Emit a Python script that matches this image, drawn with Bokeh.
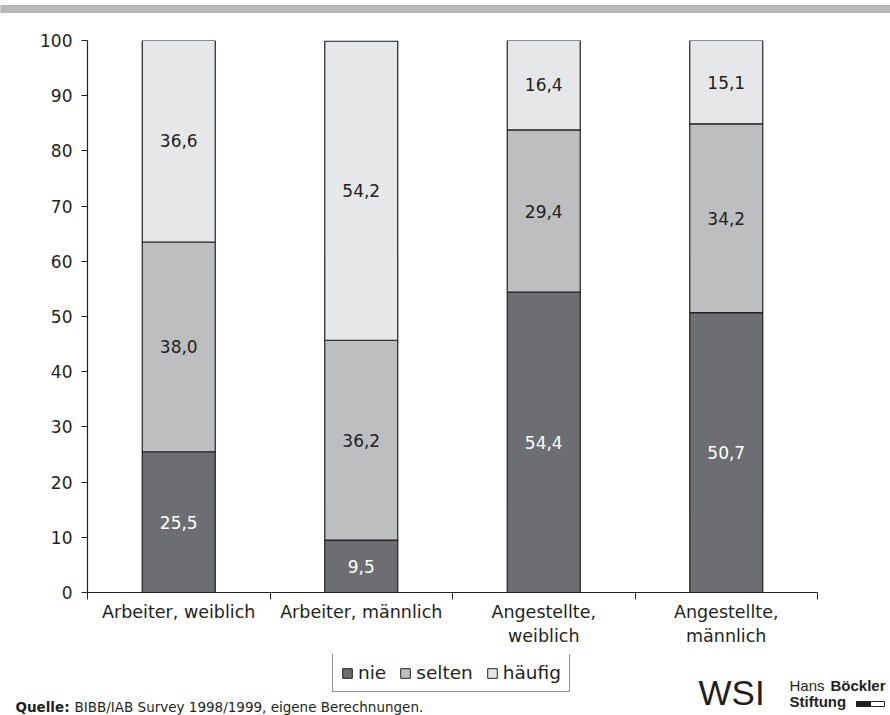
import numpy as np
from bokeh.plotting import figure
from bokeh.layouts import column
from bokeh.models import (FixedTicker, ColumnDataSource, Legend, LegendItem, Range1d)
from bokeh.core.properties import value
from bokeh.embed import file_html
from bokeh.resources import INLINE

categories = ["Arbeiter, weiblich", "Arbeiter, männlich", "Angestellte,\nweiblich", "Angestellte,\nmännlich"]
nie = [25.5, 9.5, 54.4, 50.7]
selten = [38.0, 36.2, 29.4, 34.2]
haeufig = [36.6, 54.2, 16.4, 15.1]
series_names = ["nie", "selten", "häufig"]
colors = ["#6d6e71", "#bcbec0", "#e6e7e8"]
yticks = list(range(0, 101, 10))
source_bold = "Quelle:"
source_text = "BIBB/IAB Survey 1998/1999, eigene Berechnungen."

FONT = "DejaVu Sans"
LOGO_FONT = "Liberation Sans"
TXT = "#231f20"
W = 890
TOP_H = 20
MAIN_H = 634
BOT_H = 715 - TOP_H - MAIN_H   # 61 -> strip covers canvas y 654..715


def blank(height, yr):
    f = figure(width=W, height=height, output_backend="svg", toolbar_location=None, title=None,
               x_range=Range1d(0, W), y_range=Range1d(0, yr), frame_align=False,
               min_border=0, x_axis_location=None, y_axis_location=None)
    f.outline_line_color = None
    f.xgrid.visible = False
    f.ygrid.visible = False
    f.border_fill_color = "white"
    f.background_fill_color = "white"
    return f

# ---------- top band ----------
top = blank(TOP_H, TOP_H)
top.quad(left=[0], right=[W], bottom=[8], top=[15], fill_color="#b9babc", line_color="#a9aaac",
         line_width=0.8)

# ---------- main chart ----------
p = figure(width=W, height=MAIN_H, output_backend="svg", toolbar_location=None, title=None,
           x_range=Range1d(0, len(categories)), y_range=Range1d(0, 100), frame_align=False,
           min_border_left=87, min_border_right=W - 817, min_border_top=20,
           min_border_bottom=MAIN_H - 20 - 552)
p.outline_line_color = None
p.xgrid.visible = False
p.ygrid.visible = False
p.background_fill_color = "white"
p.border_fill_color = "white"

xs = np.arange(len(categories)) + 0.5
n = np.array(nie); s = np.array(selten); h = np.array(haeufig)
b0 = np.zeros(len(xs)); t0 = n
b1 = t0; t1 = n + s
b2 = t1; t2 = np.minimum(n + s + h, 100)
bw = 0.4
for bot_, tp, c in [(b0, t0, colors[0]), (b1, t1, colors[1]), (b2, t2, colors[2])]:
    src = ColumnDataSource(dict(x=xs, bottom=bot_, top=tp))
    p.vbar(x="x", bottom="bottom", top="top", width=bw, source=src,
           fill_color=c, line_color=TXT, line_width=1.2)


def fmt(v):
    return f"{v:.1f}".replace(".", ",")


for vals, bot_, col in [(nie, b0, "white"), (selten, b1, TXT), (haeufig, b2, TXT)]:
    src = ColumnDataSource(dict(x=xs, y=bot_ + np.array(vals) / 2, t=[fmt(v) for v in vals]))
    p.text(x="x", y="y", text="t", source=src, text_align="center", text_baseline="middle",
           text_font=value(FONT), text_font_size="17px", text_color=col)

ya = p.yaxis[0]
ya.ticker = FixedTicker(ticks=yticks)
ya.major_tick_out = 6
ya.major_tick_in = 0
ya.minor_tick_out = 0
ya.axis_line_color = TXT
ya.major_tick_line_color = TXT
ya.axis_line_width = 1.2
ya.major_label_text_font = FONT
ya.major_label_text_font_size = "17px"
ya.major_label_text_color = TXT
ya.major_label_standoff = 9

xa = p.xaxis[0]
xa.ticker = FixedTicker(ticks=list(xs), minor_ticks=list(range(len(categories) + 1)))
xa.major_label_overrides = {float(x): c for x, c in zip(xs, categories)}
xa.major_tick_out = 0
xa.major_tick_in = 0
xa.minor_tick_out = 7
xa.minor_tick_in = 0
xa.minor_tick_line_color = TXT
xa.axis_line_color = TXT
xa.axis_line_width = 1.2
xa.major_label_text_font = FONT
xa.major_label_text_font_size = "17.5px"
xa.major_label_text_color = TXT
xa.major_label_standoff = 2

# ---------- bottom strip: legend, source, logo (y measured upward from canvas bottom) ----------
bot = blank(BOT_H, BOT_H)
legend_renderers = []
for c in colors:
    r = bot.vbar(x=[-5000], bottom=[-5000], top=[-4999], width=1, fill_color=c, line_color=TXT, line_width=1)
    legend_renderers.append(r)
legend = Legend(items=[LegendItem(label=nm, renderers=[r]) for nm, r in zip(series_names, legend_renderers)],
                orientation="horizontal", location=(332, 715 - 692),
                glyph_width=12, glyph_height=12, label_text_font=FONT, label_text_font_size="18.5px",
                label_text_color=TXT, border_line_color=TXT, border_line_width=1.2,
                padding=8, spacing=13, label_standoff=5, margin=0, background_fill_alpha=1)
bot.add_layout(legend, "center")

bot.text(x=[15], y=[9], text=[source_bold], text_font=value(FONT), text_font_style="bold",
         text_font_size="13.5px", text_color=TXT, text_baseline="middle")
bot.text(x=[74], y=[9], text=[source_text], text_font=value(FONT),
         text_font_size="13.5px", text_color=TXT, text_baseline="middle")

bot.text(x=[698], y=[23.5], text=["WSI"], text_font=value(LOGO_FONT), text_font_size="35px",
         text_color=TXT, text_baseline="middle")
bot.text(x=[789], y=[30], text=["Hans"], text_font=value(LOGO_FONT), text_font_size="15px",
         text_color=TXT, text_baseline="middle")
bot.text(x=[830], y=[30], text=["Böckler"], text_font=value(LOGO_FONT), text_font_size="15px",
         text_font_style="bold", text_color=TXT, text_baseline="middle")
bot.text(x=[789], y=[14], text=["Stiftung"], text_font=value(LOGO_FONT), text_font_size="15px",
         text_font_style="bold", text_color=TXT, text_baseline="middle")
bot.quad(left=[856], right=[870], bottom=[9], top=[14], fill_color=TXT, line_color=TXT, line_width=1)
bot.quad(left=[870], right=[884], bottom=[9], top=[14], fill_color="white", line_color=TXT, line_width=1)

layout = column(top, p, bot, spacing=0)
open("out.html", "w").write(file_html(layout, INLINE))
